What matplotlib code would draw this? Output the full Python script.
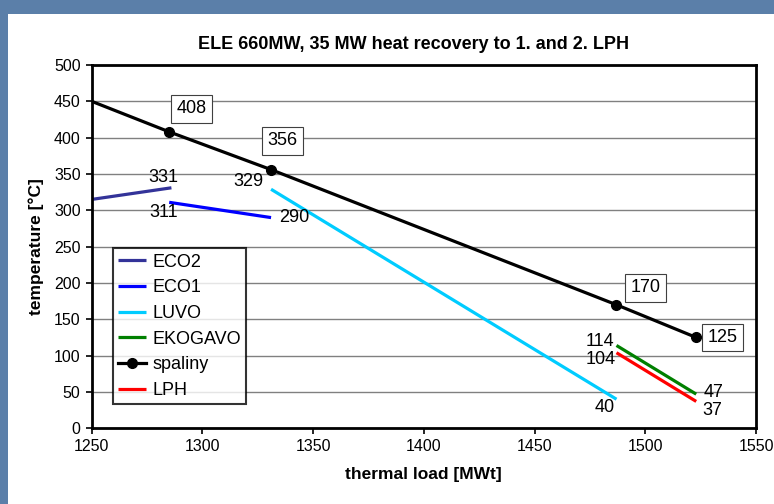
import matplotlib
matplotlib.use("Agg")
import matplotlib.pyplot as plt
from matplotlib.patches import Rectangle

plt.rcParams['font.family'] = ['Liberation Sans', 'DejaVu Sans']

# ---- data ----
eco2_x = [1250, 1286]
eco2_y = [315, 331]
eco1_x = [1285, 1331]
eco1_y = [311, 290]
luvo_x = [1331, 1487]
luvo_y = [329, 40]
ekogavo_x = [1487, 1523]
ekogavo_y = [114, 47]
spaliny_x = [1250, 1285, 1331, 1487, 1523]
spaliny_y = [450, 408, 356, 170, 125]
lph_x = [1487, 1523]
lph_y = [104, 37]

xticks = [1250, 1300, 1350, 1400, 1450, 1500, 1550]
yticks = list(range(0, 501, 50))

title = "ELE 660MW, 35 MW heat recovery to 1. and 2. LPH"
xlabel = "thermal load [MWt]"
ylabel = "temperature [°C]"

W, H = 774, 504
fig = plt.figure(figsize=(W / 100, H / 100), dpi=100)
fig.patch.set_facecolor('#5b7fa9')
fig.patches.append(Rectangle((8 / W, 0), 1 - 8 / W, 1 - 14 / H, transform=fig.transFigure,
                             facecolor='white', edgecolor='none', zorder=-10))

ax = fig.add_axes([91.7 / W, 1 - 428.3 / H, (756 - 91.7) / W, (428.3 - 65) / H])
ax.set_zorder(5)
ax.set_facecolor('white')
ax.set_xlim(1250, 1550)
ax.set_ylim(0, 500)
ax.set_xticks(xticks)
ax.set_yticks(yticks)
ax.tick_params(axis='both', labelsize=11.5, direction='out', length=4, width=1.2, colors='black', pad=4)
ax.grid(axis='y', color='#808080', linewidth=1)
ax.set_axisbelow(True)
for s in ax.spines.values():
    s.set_linewidth(2)
    s.set_color('black')

lw = 2.3
ax.plot(eco2_x, eco2_y, color='#333399', lw=lw, label='ECO2', solid_capstyle='butt')
ax.plot(eco1_x, eco1_y, color='#0000ff', lw=lw, label='ECO1', solid_capstyle='butt')
ax.plot(luvo_x, luvo_y, color='#00ccff', lw=lw, label='LUVO', solid_capstyle='butt')
ax.plot(ekogavo_x, ekogavo_y, color='#008000', lw=lw, label='EKOGAVO', solid_capstyle='butt')
ax.plot(spaliny_x, spaliny_y, color='black', lw=lw, marker='o', markersize=7,
        markevery=[1, 2, 3, 4], label='spaliny', clip_on=True)
ax.plot(lph_x, lph_y, color='#ff0000', lw=lw, label='LPH', solid_capstyle='butt')

fs = 13
# boxed spaliny labels
box = dict(boxstyle='square,pad=0.3', facecolor='white', edgecolor='#404040', linewidth=0.8)
boxed = [(1, 22, 23), (2, 11, 29), (3, 29, 17), (4, 26, 0)]
for i, dx, dy in boxed:
    ax.annotate(str(spaliny_y[i]), (spaliny_x[i], spaliny_y[i]), xytext=(dx, dy),
                textcoords='offset pixels', ha='center', va='center', fontsize=fs, bbox=box)

plain = [
    (eco2_x[1], eco2_y[1], -8, 10),
    (eco1_x[0], eco1_y[0], -6, -10),
    (luvo_x[0], luvo_y[0], -23, 8),
    (eco1_x[1], eco1_y[1], 23, 0),
    (luvo_x[1], luvo_y[1], -12, -8),
    (ekogavo_x[0], ekogavo_y[0], -17, 4),
    (lph_x[0], lph_y[0], -16, -7),
    (ekogavo_x[1], ekogavo_y[1], 17, 2),
    (lph_x[1], lph_y[1], 16, -9),
]
for x, y, dx, dy in plain:
    ax.annotate(str(y), (x, y), xytext=(dx, dy), textcoords='offset pixels',
                ha='center', va='center', fontsize=fs)

fig.text(413 / W, 1 - 44.7 / H, title, ha='center', va='center', fontsize=13, fontweight='bold')
ax.set_xlabel(xlabel, fontsize=12.5, fontweight='bold', labelpad=9)
ax.set_ylabel(ylabel, fontsize=12.5, fontweight='bold', labelpad=7)

leg = ax.legend(loc='upper left', bbox_to_anchor=(112.7 / W, 1 - 248.3 / H),
                bbox_transform=fig.transFigure, fontsize=13, frameon=True, fancybox=False,
                handlelength=1.55, handletextpad=0.35, labelspacing=0.48, borderpad=0.3,
                borderaxespad=0)
leg.get_frame().set_edgecolor('black')
leg.get_frame().set_linewidth(1.5)

fig.savefig('out.png', dpi=100, facecolor=fig.get_facecolor())
